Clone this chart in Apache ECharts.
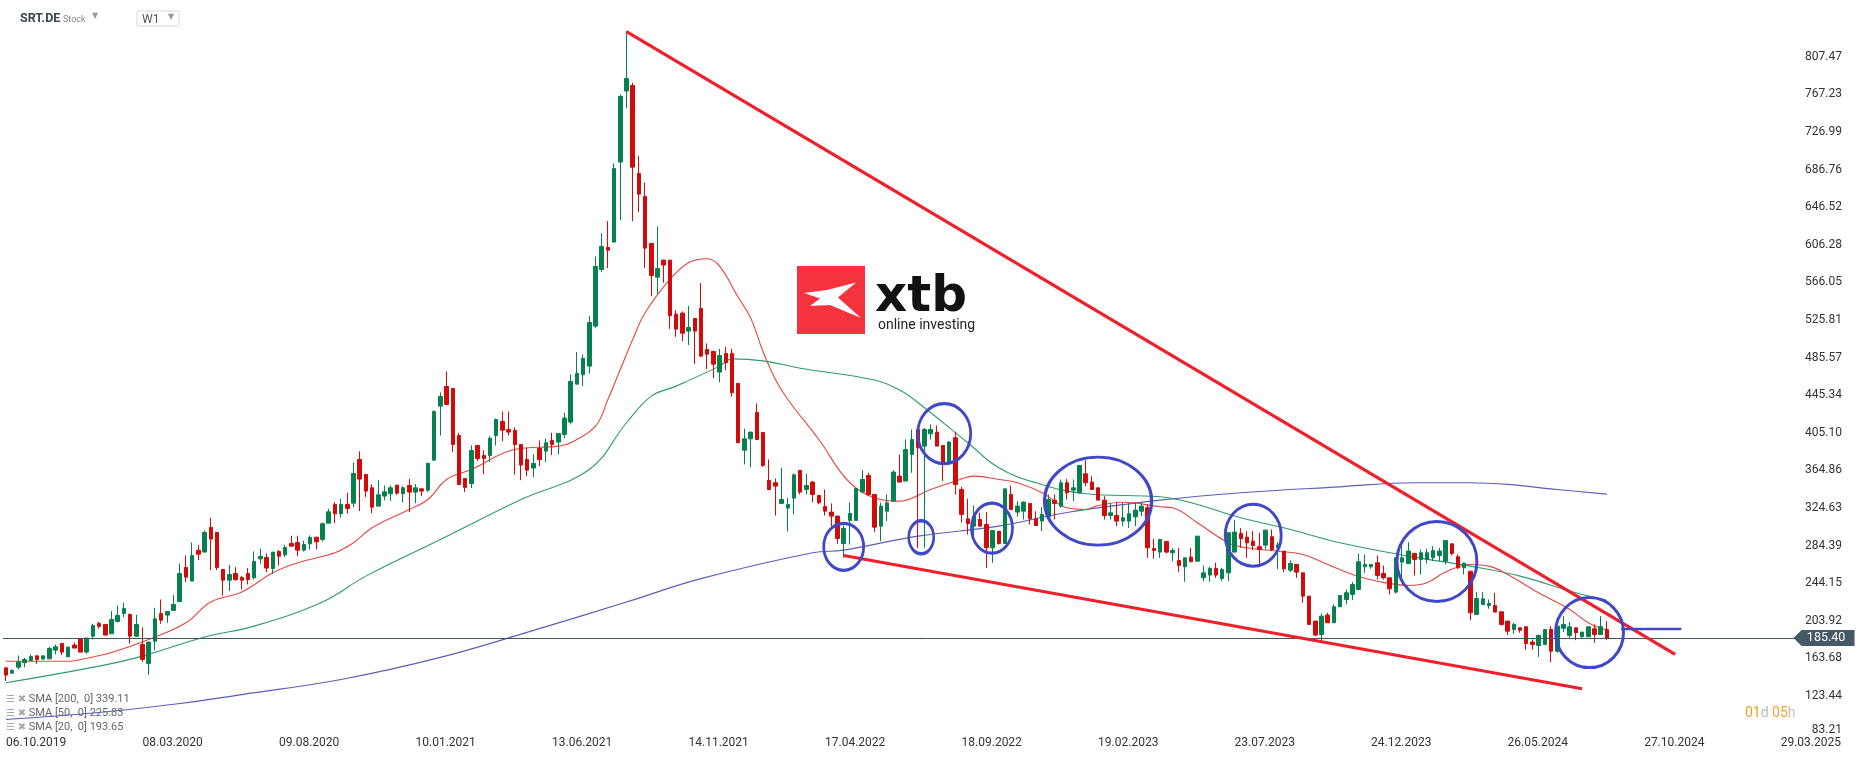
<!DOCTYPE html>
<html><head><meta charset="utf-8">
<script src="https://cdn.jsdelivr.net/npm/echarts@6/dist/echarts.min.js"></script>
<style>html,body{margin:0;padding:0;background:#fff}#c{width:1866px;height:759px}</style>
</head><body><div id="c"></div>
<script>
// ---- data (weekly candles, index 0 = week of 06.10.2019) ----
const startDateUTC = Date.UTC(2019, 9, 6);
const categoryCount = 298;
const tickEvery = 22;
const tickLabels = ['06.10.2019','08.03.2020','09.08.2020','10.01.2021','13.06.2021','14.11.2021','17.04.2022','18.09.2022','19.02.2023','23.07.2023','24.12.2023','26.05.2024','27.10.2024','29.03.2025'];
const opens = [
153.6,147.9,154.3,159.0,161.5,166.4,162.9,163.2,172.5,179.7,
165.4,177.9,185.0,170.4,187.5,201.1,200.0,190.0,203.2,211.8,
210.7,187.5,178.6,158.3,182.1,211.8,210.0,215.0,224.6,261.0,
246.4,279.5,277.4,303.8,298.4,258.8,247.4,254.5,250.3,254.5,
249.9,270.2,271.7,259.9,278.1,274.5,286.6,287.7,279.5,286.3,
293.4,291.0,308.4,328.4,318.7,328.4,329.8,376.5,360.5,346.2,
326.6,337.3,339.8,349.1,339.8,348.7,341.6,345.1,343.7,375.8,
433.6,454.6,452.5,402.2,356.2,350.8,391.5,380.8,380.8,402.2,
417.2,408.6,407.6,392.6,376.5,367.3,388.3,385.4,396.9,395.1,
403.3,416.5,457.1,467.1,476.4,519.2,579.8,603.4,609.1,694.7,
770.7,776.7,682.6,658.0,607.7,571.6,589.8,589.8,532.0,533.1,
513.9,527.4,538.1,494.2,492.1,470.0,490.0,490.0,457.9,386.5,
398.6,426.8,405.4,354.1,351.6,329.5,324.5,335.1,364.8,344.4,
352.3,338.0,326.2,320.2,315.9,286.6,311.3,311.3,341.6,359.4,
339.1,305.2,321.2,331.9,358.7,353.4,381.9,408.6,390.8,404.0,
405.8,391.5,373.0,399.7,344.4,313.0,305.2,312.3,307.0,282.0,
299.8,286.6,339.1,320.2,321.2,329.5,313.0,310.6,315.2,333.0,
326.6,351.6,343.7,340.9,361.2,352.3,346.2,333.0,316.6,316.6,
310.6,310.6,315.2,321.2,324.8,281.3,277.4,288.8,276.7,268.4,
261.7,272.0,267.7,249.9,252.8,259.9,249.2,255.2,277.4,297.4,
293.4,289.1,283.1,284.9,293.8,282.0,278.5,258.1,264.2,255.2,
230.3,203.6,189.3,210.0,201.8,218.9,226.7,232.1,237.4,261.7,
261.7,266.0,254.5,249.9,234.6,266.7,265.2,276.0,269.5,269.5,
271.3,273.8,267.7,286.3,272.4,260.6,257.0,210.7,221.4,220.3,
220.3,213.5,203.6,194.6,196.4,197.5,181.1,177.5,178.6,194.6,
171.4,195.9,188.2,196.4,186.8,186.8,195.3,189.3,194.6];
const highs = [
153.6,152.0,166.8,164.3,167.9,166.4,166.4,176.1,178.6,179.7,
176.4,180.4,185.0,185.7,200.7,202.9,200.0,214.2,220.3,223.2,
211.8,210.3,196.8,181.1,217.8,226.7,213.9,231.7,265.3,273.8,
287.7,285.2,300.6,314.1,298.4,258.8,263.8,261.3,251.7,260.3,
278.1,280.9,276.0,277.4,279.5,285.2,294.9,294.9,289.5,295.2,
293.4,309.1,323.7,330.9,334.4,340.9,373.3,385.1,360.5,349.8,
354.1,348.7,348.7,349.1,348.0,355.8,350.5,345.9,373.3,429.0,
448.2,470.7,452.5,405.1,356.2,391.5,391.5,386.2,401.5,420.4,
427.9,427.9,410.8,392.6,389.0,381.9,396.9,399.0,405.1,404.4,
426.5,467.5,491.4,488.9,529.9,593.7,618.7,631.6,693.3,767.1,
834.9,779.6,701.1,672.9,607.7,625.8,590.5,589.8,536.3,534.9,
540.6,527.4,565.2,500.7,492.8,495.0,497.0,495.0,457.9,409.4,
405.8,436.5,405.4,376.5,356.2,367.6,335.5,361.6,364.8,361.2,
353.4,338.0,344.4,329.5,315.9,305.9,330.5,345.5,365.1,362.3,
339.1,330.2,339.1,365.1,381.9,397.9,408.6,408.6,410.4,414.0,
412.9,391.5,396.2,406.1,347.3,334.4,327.3,319.5,320.2,300.6,
299.8,345.1,348.7,331.9,331.9,329.5,321.2,325.5,339.1,339.1,
355.1,355.8,355.1,370.1,375.8,358.7,346.2,337.3,330.2,330.2,
330.2,329.5,330.9,330.2,328.4,291.6,291.6,288.8,281.7,281.7,
271.3,282.0,294.5,263.1,261.7,266.0,260.6,298.1,311.6,303.1,
299.8,299.8,298.1,301.6,301.6,288.0,278.5,268.5,264.2,255.2,
230.3,203.6,211.8,212.5,221.4,231.0,237.4,245.3,276.0,274.9,
264.2,273.8,263.1,249.9,271.3,287.4,288.1,276.0,280.2,280.9,
283.8,282.0,290.2,286.3,274.9,266.0,257.0,234.6,234.6,226.7,
233.9,213.5,203.6,201.8,196.4,197.5,183.9,189.3,194.6,198.2,
198.2,208.9,202.5,196.4,191.8,198.2,200.0,208.9,203.6];
const lows = [
139.4,147.2,151.8,154.3,160.8,157.9,162.9,163.2,167.9,167.2,
165.4,174.7,170.4,168.6,184.0,195.4,188.6,190.0,202.1,207.8,
179.7,186.4,160.0,145.8,172.5,200.7,201.8,215.0,223.5,245.3,
246.4,268.8,277.4,258.1,258.1,231.0,235.6,246.7,237.5,242.8,
248.1,264.9,256.0,254.2,263.1,272.0,283.8,273.1,278.1,280.2,
280.2,288.8,308.4,308.4,314.1,318.7,325.5,321.3,336.2,319.0,
326.6,332.7,332.0,338.7,330.5,320.2,329.8,337.3,341.6,375.8,
402.2,435.4,384.4,349.8,341.6,345.9,374.7,360.8,373.7,391.5,
396.2,402.2,360.5,354.4,358.7,357.6,369.4,373.7,381.2,381.9,
399.4,414.0,457.1,455.0,468.6,517.0,577.0,581.3,609.1,632.6,
752.5,631.6,641.2,581.3,551.3,553.4,565.6,516.3,507.8,503.1,
498.9,478.9,486.0,473.2,463.6,459.0,472.0,443.6,394.4,371.2,
368.3,397.9,368.7,344.4,316.6,329.5,299.5,317.7,339.1,339.1,
330.9,328.7,316.6,305.2,286.3,271.3,285.6,311.3,341.6,338.7,
298.8,289.1,310.6,331.9,352.3,353.4,362.3,282.0,282.0,397.9,
390.8,353.4,373.0,339.1,308.8,296.3,293.8,305.2,260.6,265.9,
285.5,286.6,323.0,315.2,312.3,307.0,305.9,299.8,315.2,312.3,
324.8,333.7,332.0,340.9,348.0,344.4,333.0,312.3,312.3,305.2,
305.2,303.4,305.2,315.9,271.3,270.2,271.3,275.9,267.7,256.0,
245.6,267.0,267.7,246.3,245.6,249.9,246.3,246.3,277.4,282.0,
271.3,279.5,264.2,280.2,278.5,259.0,256.0,256.0,249.9,223.2,
200.0,187.5,182.1,201.8,201.8,218.9,221.4,226.0,237.4,255.2,
259.5,248.1,248.1,232.1,233.1,249.9,265.2,252.4,253.5,265.2,
267.7,267.7,264.2,273.8,259.5,253.5,204.6,210.7,220.7,216.8,
213.2,198.9,188.6,190.0,191.1,173.2,173.2,165.4,178.6,159.7,
169.7,191.8,185.7,183.2,185.7,186.8,180.4,189.3,183.2];
const closes = [
145.8,150.8,160.0,162.5,165.7,162.5,166.4,174.3,176.1,170.4,
175.7,174.7,170.4,185.4,198.9,197.9,188.6,205.3,209.6,217.1,
187.5,200.0,162.5,181.1,206.0,204.6,213.9,221.4,254.5,250.6,
273.8,275.2,298.4,291.3,261.0,247.4,253.5,248.1,247.4,248.1,
267.4,272.7,260.3,277.4,273.1,282.4,283.8,279.5,285.6,293.1,
288.4,307.7,320.5,318.4,328.4,324.1,361.6,355.5,342.7,325.5,
338.7,341.9,346.2,340.5,346.2,341.6,346.2,342.7,372.3,427.9,
443.9,435.4,392.6,349.8,346.6,386.2,377.6,377.6,399.3,419.3,
407.9,405.8,392.6,370.5,365.1,372.3,376.5,394.4,392.6,404.4,
420.8,460.0,468.6,484.6,523.1,583.0,604.4,600.5,687.9,764.9,
784.2,689.3,660.4,602.6,573.4,580.9,584.5,530.3,516.0,511.7,
517.8,513.9,487.1,489.2,478.5,487.8,480.0,447.9,394.4,398.6,
405.8,397.9,370.1,344.4,348.0,333.7,328.4,360.1,341.6,348.7,
339.1,330.2,321.2,315.9,292.0,302.7,318.7,345.5,355.1,338.7,
304.1,326.6,330.2,363.0,352.3,387.2,397.9,389.0,408.6,408.6,
390.8,373.7,395.1,349.8,317.7,308.0,315.9,305.2,282.0,300.6,
286.6,345.1,323.0,326.6,330.9,313.0,305.9,317.7,333.7,329.5,
351.6,340.9,346.2,370.1,351.6,344.4,333.0,316.6,319.5,310.6,
314.1,318.4,322.3,326.6,282.0,279.2,290.9,277.4,279.2,263.1,
271.3,267.0,294.5,255.2,259.9,252.8,258.8,298.1,298.8,291.6,
287.4,284.5,280.2,300.9,280.2,285.0,259.5,265.2,256.0,230.3,
200.0,188.6,208.9,201.8,218.9,231.0,233.9,242.8,267.0,264.2,
264.2,252.4,249.9,238.1,271.3,271.3,278.5,269.5,276.7,276.7,
279.2,278.5,289.9,275.9,260.6,265.6,212.5,227.8,227.4,222.4,
213.2,200.0,192.8,200.0,193.9,179.6,178.6,188.2,194.6,171.4,
198.2,200.0,197.5,191.1,191.8,197.5,189.3,197.5,185.4];

// moving averages (week index, value)
const sma20Weeks = [0,10,12,17,23,29,33,38,43,47,53,56,59,65,68,71,75,82,89,91,95,97,99,101,103,107,110,113,115,118,120,122,124,126,131,136,141,144,149,153,156,160,163,167,171,174,176,180,186,188,192,197,200,205,209,213,217,221,226,229,232,236,239,242,247,252,255,258];
const sma20Values = [160.7,160.7,162.5,170.0,183.9,201.8,224.0,234.8,255.3,266.0,276.7,287.4,303.4,323.0,333.7,355.1,365.8,387.2,390.8,394.4,412.2,440.7,472.8,504.9,533.5,569.1,587.0,591.3,583.4,550,528,492,462.1,440.7,397.9,351.6,333.7,331.9,344.4,353.3,358.7,355.1,351.6,340.9,324.8,323.0,327.3,330.8,325.9,324.8,308.8,287.4,282.0,278.4,274.9,264.2,253.5,246.3,241.7,244.6,256.0,264.2,262.4,253.5,233.9,216.0,201.8,194.0];
const sma50Weeks = [0,15,22,32,40,51,58,70,83,94,100,104,108,115,117,122,128,140,144,147,155,160,166,174,186,191,199,207,215,226,236,244,253,258];
const sma50Values = [137.6,155.4,166.1,186.6,198.2,224.1,251.7,290.9,333.7,365.8,415.8,444.3,455.0,476.4,484.2,482,474.2,461.5,450.8,437.2,394.4,367.6,351.6,339.8,336.6,330.2,314.2,301.6,287.4,273.1,262.4,251.7,233.9,225.8];
const sma200Weeks = [0,15,28,38,54,70,85,100,112,130,135,147,160,171,186,199,215,227,236,242,250,258];
const sma200Values = [98.3,105.8,115.4,125.0,141.1,164.7,193.6,224,249,276.7,279.5,294.5,305.2,319.8,333.0,340.9,347.3,351.6,351.6,349.8,344.4,339.5];

const legendRows = ['SMA [200,  0] 339.11', 'SMA [50,  0] 225.83', 'SMA [20,  0] 193.65'];
const lastPrice = 185.40;
const yTickMin = 83.207, yTickStep = 40.2367;

// drawn annotations (week index, price)
const upperTrend = [[100, 834.2], [269, 167.9]];
const lowerTrend = [[135, 273.8], [254, 131.2]];
const targetMark = [[260.3, 195.2], [270, 195.2]];
const circleCentres = [[135, 283.1], [147.5, 293.3], [151.2, 404.2], [158.9, 303.0], [176.0, 331.9], [201, 295.4], [230.6, 267.4], [255.2, 191.3]];
const circleSizes = [[40, 47], [25, 33], [53, 60], [41, 50], [107, 88], [56, 62], [80, 80], [68, 70]];

// ---- build ----
function fmtDate(t) {
  const d = new Date(t);
  return String(d.getUTCDate()).padStart(2, '0') + '.' + String(d.getUTCMonth() + 1).padStart(2, '0') + '.' + d.getUTCFullYear();
}
const dates = [];
for (let i = 0; i < categoryCount; i++) dates.push(fmtDate(startDateUTC + i * 7 * 86400000));
const ohlc = opens.map((o, i) => [o, closes[i], lows[i], highs[i]]);
const pairs = (w, v) => w.map((x, i) => [x, v[i]]);
const circles = circleCentres.map((c, i) => [c[0], c[1], circleSizes[i][0], circleSizes[i][1]]);

const GREEN = '#07804f', RED = '#d10a0a', BLUE = '#4048c8', TREND = '#ef1f2b';
const chart = echarts.init(document.getElementById('c'), null, { renderer: 'canvas' });

const lineSeries = (data, color, width, extra) => Object.assign({
  type: 'line', xAxisIndex: 1, yAxisIndex: 0, data, showSymbol: false, symbol: 'none',
  silent: true, lineStyle: { color, width }, animation: false
}, extra || {});

chart.setOption({
  animation: false,
  backgroundColor: '#fff',
  textStyle: { fontFamily: 'Roboto' },
  grid: { left: 2.9, right: 14.0, top: 19.1, bottom: 25.4, containLabel: false, outerBoundsMode: 'none' },
  xAxis: [{
    type: 'category', data: dates, boundaryGap: true,
    axisLine: { show: false }, axisTick: { show: false }, splitLine: { show: false },
    axisLabel: {
      interval: (idx) => idx % tickEvery === 0, align: 'left', margin: 3, color: '#333', fontSize: 12, fontFamily: 'Roboto',
      formatter: (val, idx) => tickLabels[Math.round(idx / tickEvery)] || val
    }
  }, {
    type: 'value', min: -0.5, max: categoryCount - 0.5, show: false
  }],
  yAxis: {
    type: 'value', position: 'right', min: yTickMin, max: yTickMin + 19 * yTickStep, interval: yTickStep,
    axisLine: { show: false }, axisTick: { show: false }, splitLine: { show: false },
    axisLabel: {
      inside: true, margin: 10, color: '#333', fontSize: 12, fontFamily: 'Roboto', showMaxLabel: false,
      formatter: (v) => Math.abs(v - yTickMin) < 0.01 ? '{b|' + v.toFixed(2) + '}' : v.toFixed(2),
      rich: { b: { padding: [0, 0, 7, 0], fontSize: 12, color: '#333', fontFamily: 'Roboto' } }
    }
  },
  series: [
    lineSeries(pairs(sma200Weeks, sma200Values), '#5a5fb8', 1.2, { smooth: 0.4, z: 2 }),
    lineSeries(pairs(sma50Weeks, sma50Values), '#2f9b6f', 1.1, { smooth: 0.4, z: 2 }),
    lineSeries(pairs(sma20Weeks, sma20Values), '#e64640', 1.1, { smooth: 0.4, z: 2 }),
    {
      type: 'candlestick', xAxisIndex: 0, yAxisIndex: 0, data: ohlc, barWidth: 4, z: 3, silent: true,
      itemStyle: { color: GREEN, color0: RED, borderColor: GREEN, borderColor0: RED, borderWidth: 1 },
      markLine: {
        silent: true, symbol: ['none', 'none'], animation: false,
        lineStyle: { color: '#3f5560', width: 1, type: 'solid' },
        label: { show: false },
        data: [{ yAxis: lastPrice }]
      },
      markPoint: {
        silent: true, animation: false,
        symbol: 'path://M0,8L8,0L61,0L61,16L8,16Z', symbolSize: [61, 16],
        itemStyle: { color: '#455a64' },
        label: { show: true, position: 'inside', formatter: () => lastPrice.toFixed(2), color: '#fff', fontSize: 12.5, fontFamily: 'Roboto', offset: [2, 0] },
        data: [{ coord: [293, lastPrice], value: lastPrice }]
      }
    },
    lineSeries(upperTrend, TREND, 3.2, { z: 5 }),
    lineSeries(lowerTrend, TREND, 3.2, { z: 5 }),
    lineSeries(targetMark, BLUE, 2.5, { z: 5 }),
    {
      type: 'scatter', xAxisIndex: 1, yAxisIndex: 0, data: circles, symbol: 'circle', silent: true, z: 6,
      symbolSize: (val) => [val[2], val[3]],
      itemStyle: { color: 'rgba(0,0,0,0)', borderColor: BLUE, borderWidth: 3, opacity: 1 }
    }
  ],
  graphic: [
    { type: 'text', x: 20, y: 19, style: { text: 'SRT.DE', font: 'bold 12.5px Roboto', fill: '#37474f', align: 'left', verticalAlign: 'middle' } },
    { type: 'text', x: 63, y: 20, style: { text: 'Stock', font: '9px Roboto', fill: '#888', align: 'left', verticalAlign: 'middle' } },
    { type: 'text', x: 92, y: 16, style: { text: '▼', font: '8px "DejaVu Sans"', fill: '#999', align: 'left', verticalAlign: 'middle' } },
    { type: 'rect', shape: { x: 137, y: 11, width: 42, height: 15, r: 1 }, style: { fill: '#fff', stroke: '#d8d8d8', lineWidth: 1 } },
    { type: 'text', x: 142, y: 19.5, style: { text: 'W1', font: '12px Roboto', fill: '#555', align: 'left', verticalAlign: 'middle' } },
    { type: 'text', x: 168, y: 17, style: { text: '▼', font: '8px "DejaVu Sans"', fill: '#999', align: 'left', verticalAlign: 'middle' } },
    // logo
    { type: 'rect', shape: { x: 797, y: 266, width: 68, height: 68 }, style: { fill: '#f5333f' } },
    { type: 'polygon', shape: { points: [[804, 293], [827, 290], [856, 282.5], [838, 297.5], [861, 318], [830, 305], [810, 306], [820, 298.5]] }, style: { fill: '#fff' } },
    { type: 'text', x: 875, y: 298, style: { text: 'xtb', font: 'bold 50px "DejaVu Sans"', fill: '#111', align: 'left', verticalAlign: 'middle' } },
    { type: 'text', x: 878, y: 325, style: { text: 'online investing', font: '14px Roboto', fill: '#222', align: 'left', verticalAlign: 'middle' } },
    // legend rows
    ...legendRows.map((t, k) => ({
      type: 'text', x: 6, y: 699.5 + k * 14, style: {
        text: '{i|☰} {x|✖} ' + t, font: '11px Roboto', fill: '#666', align: 'left', verticalAlign: 'middle',
        rich: { i: { fontSize: 10, fill: '#aaa', fontFamily: 'DejaVu Sans' }, x: { fontSize: 10, fill: '#aaa', fontFamily: 'DejaVu Sans' } }
      }
    })),
    // countdown
    { type: 'text', x: 1745, y: 713, style: {
      text: '{o|01}{g|d} {o|05}{g|h}', font: '14px Roboto', fill: '#bbb', align: 'left', verticalAlign: 'middle',
      rich: { o: { fill: '#f5a020', fontSize: 14, fontFamily: 'Roboto' }, g: { fill: '#bdbdbd', fontSize: 14, fontFamily: 'Roboto' } }
    } }
  ]
});
</script>
</body></html>
